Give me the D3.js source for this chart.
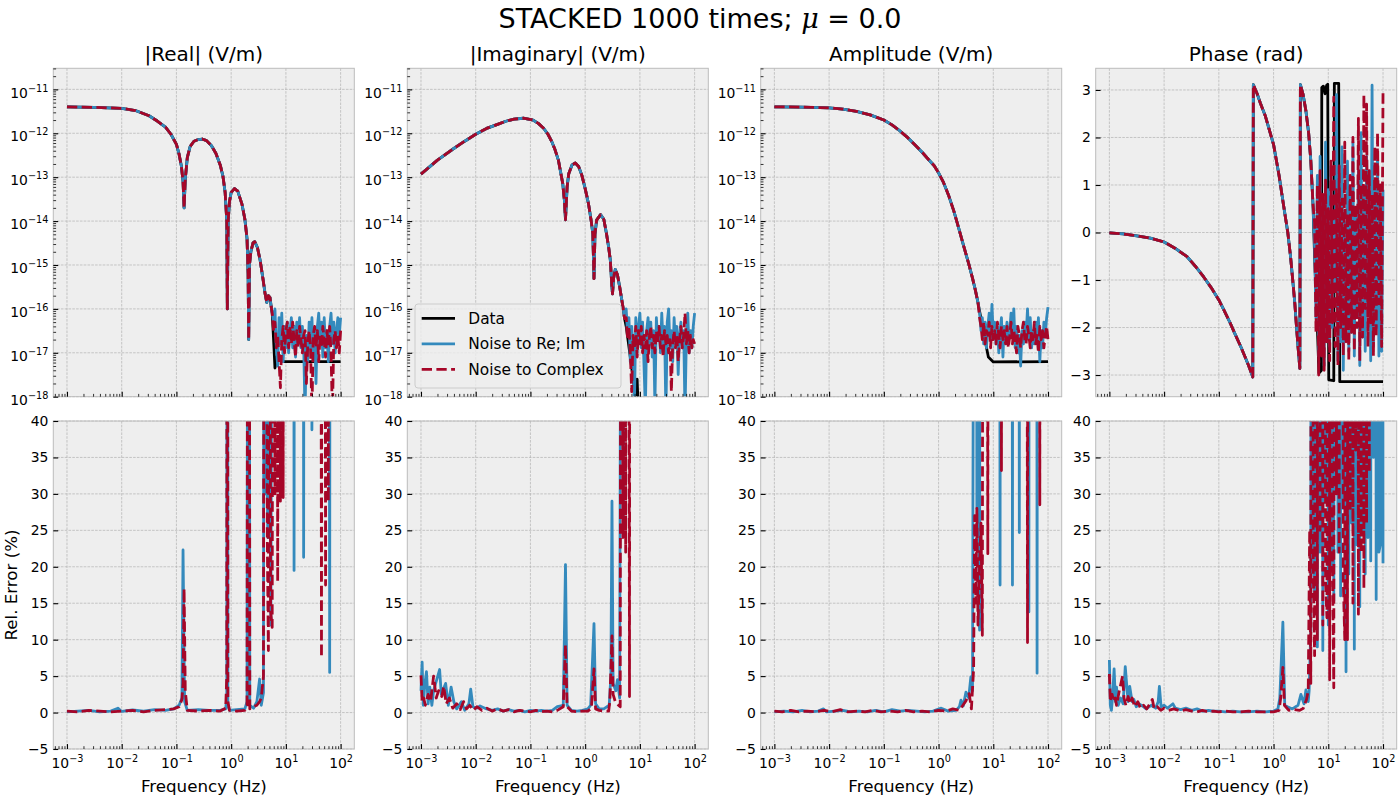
<!DOCTYPE html>
<meta charset="utf-8">
<style>
body { margin: 0; background: #fff; }
text { font-family: "DejaVu Sans", sans-serif; fill: #000; }
.bg { fill: #eeeeee; }
.frame { fill: none; stroke: #bcbcbc; stroke-width: 1; }
.grid line { stroke: #b2b2b2; stroke-width: 0.7; stroke-dasharray: 2.6,1.2; }
.axis text { font-family: "DejaVu Sans", sans-serif; font-size: 13.9px; fill: #000; }
.axis .tick line { stroke: #000; }
.line { fill: none; stroke-width: 2.8; stroke-linejoin: round; }
.title { font-size: 20px; }
.label { font-size: 16.7px; }
</style>
<svg width="1400" height="800"></svg>
<script src="https://d3js.org/d3.v7.min.js"></script>
<script>

// ---------- data ----------
// shared frequencies (Hz) of the noisy high-frequency part
const tailFreq = [5.62, 5.96, 6.31, 6.68, 7.08, 7.50, 7.94, 8.41, 8.91, 9.44,
  10.0, 10.6, 11.2, 11.9, 12.6, 13.3, 14.1, 15.0, 15.8, 16.8,
  17.8, 18.8, 20.0, 21.1, 22.4, 23.7, 25.1, 26.6, 28.2, 29.9,
  31.6, 33.5, 35.5, 37.6, 39.8, 42.2, 44.7, 47.3, 50.1, 53.1,
  56.2, 59.6, 63.1, 66.8, 70.8, 75.0, 79.4, 84.1, 89.1, 94.4, 100];

// |Real| (V/m): [Hz, value]
const realSmooth = [[0.001, 4.0e-12], [0.00316, 3.9e-12], [0.01, 3.7e-12], [0.0178, 3.3e-12], [0.0316, 2.5e-12],
  [0.0447, 1.9e-12], [0.0631, 1.38e-12], [0.0794, 9.5e-13], [0.1, 5.6e-13], [0.112, 3.3e-13], [0.123, 1.8e-13],
  [0.132, 8e-14], [0.138, 2e-14], [0.145, 9e-14], [0.158, 2.8e-13], [0.178, 5e-13], [0.209, 6.6e-13],
  [0.251, 7.2e-13], [0.295, 7.4e-13], [0.355, 6.8e-13], [0.437, 5.2e-13], [0.525, 3.5e-13], [0.631, 1.9e-13],
  [0.708, 1.05e-13], [0.776, 4.5e-14], [0.832, 1e-14], [0.851, 1e-16], [0.881, 1e-14], [0.933, 2.8e-14],
  [1.0, 4.5e-14], [1.15, 5.5e-14], [1.32, 4.8e-14], [1.58, 2.4e-14], [1.78, 1.1e-14], [1.95, 4e-15],
  [2.04, 6.3e-16], [2.09, 2e-17], [2.16, 1e-15], [2.29, 2e-15], [2.51, 3.2e-15], [2.69, 3.4e-15],
  [3.02, 2.5e-15], [3.39, 1.26e-15], [3.8, 5e-16], [4.17, 2.2e-16], [4.47, 1.4e-16], [4.79, 2e-16],
  [5.13, 1.8e-16], [5.4, 1.1e-16]];
const realDataTail = [[5.62, 8e-17], [5.96, 2e-17], [6.31, 4.5e-18], [6.76, 7e-18], [7.08, 9.5e-18],
  [7.5, 9e-18], [7.94, 7e-18], [8.41, 6.5e-18], [9.44, 6.3e-18], [100, 6.3e-18]];
const realReImTail = [8e-17, 5e-17, 1e-16, 1.3e-17, 5e-18, 6.3e-17, 1.6e-17, 8e-17, 6.3e-18, 4e-17,
  1.3e-17, 5e-17, 1e-17, 3.2e-17, 6.3e-17, 1.3e-17, 4e-17, 8e-18, 5e-17, 2e-17,
  6.3e-17, 1.3e-17, 4e-17, 1.6e-17, 4e-19, 2.5e-17, 6.3e-18, 5e-17, 1.3e-17, 6.3e-17,
  1e-17, 3.2e-17, 2e-18, 4e-17, 8e-17, 1.6e-17, 5e-17, 8e-18, 6.3e-17, 1.3e-17,
  3.2e-17, 6.3e-18, 4e-17, 8e-17, 1.6e-17, 5e-17, 1e-17, 3.2e-17, 6.3e-17, 2.5e-17, 6.3e-17];
const realCplxTail = [8e-17, 3.2e-17, 5e-17, 1.3e-17, 2.5e-17, 6.3e-18, 1.6e-18, 2e-17, 4e-17, 1e-17,
  3.2e-17, 5e-17, 1.3e-17, 4e-17, 1.6e-17, 5e-17, 2e-17, 8e-18, 3.2e-17, 1.3e-17,
  4e-17, 2e-17, 1e-17, 2.5e-17, 3.2e-17, 2e-18, 1.6e-17, 3.2e-17, 1.3e-17, 4e-19,
  2.5e-17, 4e-17, 1.3e-17, 3.2e-17, 6.3e-18, 2.5e-17, 1.3e-17, 4e-17, 2e-17, 8e-18,
  3.2e-17, 1.6e-17, 4e-17, 1e-17, 4e-19, 2e-17, 3.2e-17, 1.3e-17, 2.5e-17, 1e-17, 3.2e-17];

// |Imaginary| (V/m)
const imagSmooth = [[0.001, 1.17e-13], [0.002, 2.45e-13], [0.00398, 4.5e-13], [0.0063, 6.6e-13], [0.01, 9.5e-13],
  [0.0158, 1.29e-12], [0.0251, 1.6e-12], [0.0355, 1.88e-12], [0.0501, 2.1e-12], [0.0741, 2.2e-12],
  [0.112, 2.0e-12], [0.141, 1.66e-12], [0.174, 1.3e-12], [0.209, 9.5e-13], [0.245, 6.5e-13], [0.282, 4.2e-13],
  [0.324, 2.45e-13], [0.389, 7.2e-14], [0.417, 3e-14], [0.437, 1.07e-14], [0.468, 6e-14], [0.501, 1.2e-13],
  [0.575, 1.9e-13], [0.661, 2.1e-13], [0.759, 1.75e-13], [0.871, 1.1e-13], [1.0, 5.5e-14], [1.15, 2.5e-14],
  [1.29, 1e-14], [1.38, 5.2e-15], [1.45, 4.9e-16], [1.51, 5e-15], [1.62, 1.05e-14], [1.91, 1.4e-14],
  [2.19, 1.1e-14], [2.45, 5.2e-15], [2.69, 2.5e-15], [2.88, 1.3e-15], [3.09, 3e-16], [3.16, 2.2e-16],
  [3.31, 5e-16], [3.55, 7.9e-16], [3.89, 6e-16], [4.27, 3.2e-16], [4.9, 1.1e-16], [5.25, 6e-17]];
const imagDataTail = [[5.62, 4e-17], [6.46, 1.1e-17], [7.41, 3e-18], [7.59, 2.5e-18], [8.32, 8e-19],
  [8.91, 2.5e-18], [9.33, 5e-19], [100, 5e-19]];
const imagReImTail = [1e-16, 2.5e-17, 6.3e-17, 6.3e-18, 4e-17, 1.3e-17, 5e-19, 6.3e-17, 1e-17, 4e-17,
  8e-17, 1.3e-17, 5e-17, 5e-18, 5e-19, 3.2e-17, 6.3e-17, 1.6e-17, 5e-17, 8e-18,
  3.2e-17, 6.3e-19, 6.3e-17, 2e-17, 4e-17, 1e-17, 8e-17, 1.6e-17, 4e-17, 4e-19,
  5e-17, 1e-16, 1.3e-17, 3.2e-17, 6.3e-18, 6.3e-17, 1.6e-17, 4e-17, 3.2e-18, 2.5e-17,
  5e-17, 1.3e-17, 3.2e-17, 4e-19, 2.5e-17, 8e-17, 1e-17, 3.2e-17, 1.3e-17, 4e-17, 8e-17];
const imagCplxTail = [6.3e-17, 2e-17, 4e-17, 1e-17, 1.3e-18, 2.5e-17, 1.3e-17, 4e-17, 8e-18, 3.2e-17,
  1.6e-17, 4e-17, 1e-17, 2.5e-17, 1.3e-17, 3.2e-17, 6.3e-18, 2.5e-17, 4e-17, 1.3e-17,
  2.5e-17, 1e-17, 3.2e-17, 1.6e-17, 4e-17, 1.3e-17, 2.5e-17, 8e-18, 3.2e-17, 1.6e-17,
  2.5e-17, 1e-17, 2e-17, 1.3e-18, 1.6e-17, 3.2e-17, 1.3e-17, 2.5e-17, 6.3e-18, 2e-17,
  4e-17, 1.3e-17, 2.5e-17, 8e-17, 1.6e-17, 3.2e-17, 1e-17, 2.5e-17, 1.3e-17, 2e-17, 1.6e-17];

// Amplitude (V/m)
const ampSmooth = [[0.001, 4.0e-12], [0.00316, 3.95e-12], [0.01, 3.8e-12], [0.0178, 3.55e-12], [0.0316, 3.16e-12],
  [0.0562, 2.63e-12], [0.1, 2.0e-12], [0.141, 1.55e-12], [0.186, 1.2e-12], [0.263, 8.3e-13], [0.372, 5.4e-13],
  [0.501, 3.7e-13], [0.661, 2.5e-13], [0.832, 1.82e-13], [1.0, 1.26e-13], [1.23, 7.6e-14], [1.51, 4e-14],
  [1.91, 1.66e-14], [2.34, 6.8e-15], [2.88, 2.7e-15], [3.55, 1.07e-15], [4.17, 5e-16], [4.68, 2.75e-16],
  [5.25, 1.4e-16]];
const ampDataTail = [[5.96, 6e-17], [7.08, 1.9e-17], [8.13, 8e-18], [10, 6.2e-18], [100, 6.3e-18]];
const ampReImTail = [8e-17, 3.2e-17, 6.3e-17, 1.6e-17, 5e-17, 1.3e-17, 4e-17, 8e-17, 2e-17, 1.26e-16,
  2.5e-17, 5e-17, 1.6e-17, 4e-17, 1e-17, 3.2e-17, 6.3e-17, 8e-18, 4e-17, 2e-17,
  5e-17, 1.6e-17, 3.2e-17, 8e-17, 2.5e-17, 1e-16, 1.3e-17, 4e-17, 1e-17, 2.5e-17,
  5e-18, 3.2e-17, 1.6e-17, 5e-17, 2.5e-17, 1e-16, 2e-17, 6.3e-17, 1.3e-17, 3.2e-17,
  1.6e-17, 5e-17, 2e-17, 6.3e-17, 6.3e-18, 3.2e-17, 1.3e-17, 5e-17, 2.5e-17, 6.3e-17, 1.1e-16];
const ampCplxTail = [6.3e-17, 4e-17, 2e-17, 5e-17, 1.6e-17, 3.2e-17, 2.5e-17, 5e-17, 1.3e-17, 4e-17,
  2e-17, 3.2e-17, 1.6e-17, 5e-17, 2.5e-17, 1.3e-17, 4e-17, 2e-17, 3.2e-17, 1.6e-17,
  4e-17, 1.3e-17, 2.5e-17, 5e-17, 1.6e-17, 3.2e-17, 2e-17, 1e-17, 4e-17, 2.5e-17,
  1.3e-17, 3.2e-17, 5e-17, 2e-17, 1.6e-17, 4e-17, 2.5e-17, 1.3e-17, 3.2e-17, 2e-17,
  5e-17, 1.6e-17, 2.5e-17, 1e-17, 4e-17, 2e-17, 3.2e-17, 1.3e-17, 2.5e-17, 4e-17, 2e-17];

// Phase (rad)
const phaseSmooth = [[0.001, -0.01], [0.00178, -0.03], [0.00316, -0.07], [0.00562, -0.12], [0.01, -0.2],
  [0.0158, -0.33], [0.0263, -0.51], [0.0372, -0.71], [0.0525, -0.93], [0.0724, -1.16], [0.1, -1.42],
  [0.126, -1.65], [0.162, -1.91], [0.2, -2.15], [0.251, -2.4], [0.302, -2.62], [0.355, -2.82],
  [0.417, -3.04], [0.427, 3.11], [0.501, 2.92], [0.575, 2.72], [0.708, 2.45], [1.0, 1.85], [1.26, 1.2],
  [1.51, 0.6], [1.82, 0.0], [2.04, -0.5], [2.24, -1.0], [2.45, -1.5], [2.63, -2.0], [2.82, -2.45],
  [3.02, -2.86], [3.09, 3.11], [3.47, 2.9], [3.89, 2.57], [4.37, 2.1], [4.79, 1.52], [5.25, 0.6]];
const phaseDataTail = [[5.62, -0.5], [6.31, -2.0], [6.76, -2.96], [7.5, -2.9], [7.6, 3.05], [8.13, 3.08],
  [8.71, 2.92], [9.33, 3.1], [9.77, 3.12], [10.2, -3.1], [12.6, -3.12], [12.9, 3.14], [15.5, 3.14],
  [16.2, -3.14], [100, -3.14]];
const phaseReImTail = [-0.3, -1.8, 1.2, -2.6, 1.6, -2.2, 0.6, -2.8, 1.9, -1.5,
  0.9, -2.4, 1.4, -2.0, 0.4, -1.2, 2.9, -2.7, 1.0, -2.3,
  1.8, -2.9, 0.2, -1.9, 1.5, -2.5, 0.8, -2.1, 1.9, -2.6,
  0.5, -1.7, 1.3, -2.8, 2.1, -2.2, 0.9, -2.5, 1.6, -1.4,
  0.3, -2.7, 3.1, -2.4, 1.1, -2.0, 1.7, -2.6, 0.6, -2.5, 0.9];
const phaseCplxTail = [0.2, -2.1, 1.0, -3.0, 1.3, -2.6, 0.8, -2.9, 1.1, -2.3,
  0.5, -2.7, 1.5, -1.9, 2.85, -2.4, 0.9, -2.8, 1.4, -2.0,
  0.7, -2.6, 1.9, -2.3, 0.4, -2.7, 1.2, -2.1, 2.0, -2.5,
  0.6, -2.0, 2.4, -2.7, 1.0, -2.2, 2.9, -1.6, 2.7, -2.4,
  1.3, -1.9, 0.8, -2.6, 1.8, -2.2, 2.1, -1.5, 1.0, -2.4, 2.95];

// Rel. Error (%) -- values above 40 run off the top of the plot
const realErrReImHead = [[0.001, 0.1], [0.00158, 0.2], [0.00251, 0.3], [0.00398, 0.1], [0.00631, 0.2],
  [0.0085, 0.6], [0.01, 0.15], [0.0158, 0.35], [0.0251, 0.2], [0.0398, 0.4], [0.0631, 0.3], [0.0891, 0.5],
  [0.112, 1.0], [0.126, 2.0], [0.132, 22.3], [0.141, 1.5], [0.158, 0.3], [0.251, 0.4], [0.398, 0.3],
  [0.631, 0.3], [0.794, 0.5], [0.832, 2], [0.851, 200], [0.871, 1.0], [0.933, 0.3], [1.26, 0.4],
  [1.78, 0.5], [1.95, 1.5], [2.09, 200], [2.19, 1.0], [2.57, 0.6], [2.95, 1.5], [3.31, 4.6], [3.55, 1.0],
  [3.89, 2.7], [4.07, 150], [4.27, 30], [4.47, 35], [4.68, 24], [4.9, 150], [5.13, 35], [5.31, 12]];
const realErrReImTail = [80, 150, 45, 300, 120, 200, 90, 250, 150, 400,
  180, 300, 120, 250, 200, 350, 19.5, 300, 150, 400,
  220, 180, 300, 21.3, 250, 400, 150, 300, 200, 38.8,
  250, 350, 180, 300, 220, 400, 150, 250, 300, 180,
  350, 200, 5.5, 300, 250, 400, 150, 300, 200, 350, 250];
const realErrCplxHead = [[0.001, 0.2], [0.00158, 0.1], [0.00251, 0.3], [0.00398, 0.2], [0.00631, 0.1],
  [0.01, 0.2], [0.0158, 0.3], [0.0251, 0.1], [0.0398, 0.3], [0.0631, 0.4], [0.0891, 0.5], [0.112, 0.8],
  [0.126, 1.8], [0.132, 4], [0.138, 17], [0.145, 3], [0.158, 0.3], [0.251, 0.2], [0.398, 0.3],
  [0.631, 0.2], [0.794, 0.6], [0.832, 5], [0.851, 200], [0.871, 1.5], [0.933, 0.3], [1.26, 0.2],
  [1.78, 0.3], [1.95, 1.0], [2.09, 200], [2.19, 0.5], [2.57, 0.8], [2.95, 1.0], [3.31, 1.5], [3.55, 2.0],
  [3.89, 5], [4.07, 150], [4.27, 150], [4.57, 24], [4.79, 8.5], [5.01, 150], [5.25, 14]];
const realErrCplxTail = [11.7, 150, 30, 200, 18, 150, 29, 200, 29.5, 200,
  300, 150, 250, 400, 200, 300, 180, 250, 350, 200,
  300, 150, 400, 250, 200, 300, 180, 350, 250, 200,
  300, 150, 400, 250, 300, 180, 7.6, 250, 200, 17.5,
  300, 29, 250, 400, 200, 300, 150, 350, 250, 200, 300];

const imagErrReIm = [[0.001, 3.0], [0.00105, 6.9], [0.0011, 1.0], [0.00118, 4.0], [0.00126, 5.6],
  [0.00135, 1.2], [0.00145, 3.5], [0.00158, 1.0], [0.0017, 3.0], [0.00219, 5.9], [0.00235, 2.5],
  [0.00282, 4.0], [0.00316, 1.0], [0.00355, 3.5], [0.00398, 1.5], [0.0045, 0.5], [0.0055, 1.5],
  [0.0063, 0.3], [0.0075, 1.2], [0.0081, 3.2], [0.0089, 0.8], [0.0105, 0.6], [0.012, 0.9], [0.0158, 0.5],
  [0.02, 0.3], [0.0251, 0.5], [0.0316, 0.2], [0.0398, 0.4], [0.05, 0.2], [0.063, 0.3], [0.079, 0.1],
  [0.1, 0.3], [0.126, 0.2], [0.158, 0.3], [0.2, 0.2], [0.251, 0.3], [0.309, 0.8], [0.398, 1.0],
  [0.437, 20.3], [0.468, 1.0], [0.56, 0.3], [0.708, 0.2], [0.89, 0.3], [1.12, 0.5], [1.26, 1.0],
  [1.45, 12.2], [1.55, 1.2], [1.8, 0.5], [2.19, 0.5], [2.75, 1.0], [2.95, 5], [3.09, 29], [3.24, 4],
  [3.63, 3], [3.89, 4.5], [4.27, 2], [4.57, 100], [4.79, 300], [5.01, 26], [5.25, 200], [5.62, 300], [100, 300]];
const imagErrCplx = [[0.001, 5.1], [0.00105, 1.5], [0.00112, 2.0], [0.0012, 1.0], [0.00135, 2.5],
  [0.0015, 1.5], [0.0017, 5.0], [0.0019, 2.0], [0.0021, 3.0], [0.0024, 2.2], [0.0026, 3.6], [0.0029, 1.2],
  [0.0033, 2.0], [0.0038, 0.6], [0.0045, 1.2], [0.0052, 0.4], [0.006, 1.5], [0.0068, 0.5], [0.0078, 1.0],
  [0.009, 0.3], [0.0105, 0.8], [0.013, 0.3], [0.016, 0.6], [0.02, 0.2], [0.025, 0.5], [0.032, 0.2],
  [0.04, 0.4], [0.05, 0.1], [0.063, 0.3], [0.08, 0.2], [0.1, 0.1], [0.126, 0.3], [0.158, 0.1], [0.2, 0.2],
  [0.251, 0.1], [0.309, 0.3], [0.398, 0.8], [0.437, 9.3], [0.468, 0.8], [0.56, 0.2], [0.708, 0.1],
  [0.89, 0.2], [1.12, 0.2], [1.3, 0.6], [1.45, 6.0], [1.55, 0.5], [1.8, 0.3], [2.19, 0.2], [2.69, 0.2],
  [2.82, 1.5], [3.09, 10.5], [3.24, 2.5], [3.55, 1.5], [4.07, 1.0], [4.37, 0.8], [4.57, 150], [4.9, 24],
  [5.13, 200], [5.5, 22], [5.75, 250], [6.46, 2.2], [6.76, 300], [100, 300]];

const ampErrReImHead = [[0.001, 0.1], [0.0015, 0.2], [0.0022, 0.1], [0.0032, 0.3], [0.0045, 0.1],
  [0.0063, 0.2], [0.0079, 0.5], [0.0089, 0.1], [0.0126, 0.2], [0.018, 0.3], [0.025, 0.1], [0.035, 0.2],
  [0.05, 0.1], [0.07, 0.3], [0.1, 0.1], [0.141, 0.4], [0.2, 0.2], [0.28, 0.3], [0.4, 0.2], [0.56, 0.1],
  [0.79, 0.2], [1.12, 0.6], [1.5, 0.2], [2.09, 0.3], [2.4, 0.8], [2.57, 1.7], [2.82, 0.9], [3.16, 2.8],
  [3.55, 2.0], [3.89, 4.9], [4.17, 3.0], [4.47, 100], [4.68, 300], [5.01, 28], [5.25, 300], [5.5, 13]];
const ampErrReImTail = [11.3, 250, 150, 300, 200, 400, 250, 300, 150, 350,
  200, 300, 250, 400, 200, 17.5, 300, 250, 350, 200,
  400, 300, 150, 250, 17.5, 300, 200, 350, 250, 24.7,
  300, 150, 400, 250, 300, 200, 13.8, 350, 250, 300,
  200, 400, 5.4, 300, 250, 350, 200, 300, 250, 400, 300];
const ampErrCplxHead = [[0.001, 0.2], [0.0014, 0.1], [0.002, 0.3], [0.0028, 0.1], [0.004, 0.2],
  [0.0056, 0.1], [0.008, 0.3], [0.011, 0.1], [0.016, 0.4], [0.022, 0.1], [0.032, 0.2], [0.045, 0.1],
  [0.063, 0.3], [0.089, 0.1], [0.126, 0.2], [0.178, 0.1], [0.25, 0.3], [0.35, 0.1], [0.5, 0.2], [0.71, 0.1],
  [1.0, 0.3], [1.41, 0.2], [1.82, 0.5], [2.4, 0.3], [3.16, 1.6], [3.63, 2.6], [3.98, 0.5], [4.37, 6],
  [4.57, 27], [4.79, 15], [5.01, 28], [5.25, 12]];
const ampErrCplxTail = [20, 26, 10.6, 200, 300, 150, 21.8, 250, 300, 200,
  400, 250, 300, 150, 350, 250, 33.2, 300, 200, 400,
  250, 300, 150, 350, 200, 300, 250, 400, 200, 300,
  150, 350, 250, 300, 200, 9.6, 300, 250, 400, 200,
  300, 150, 350, 250, 28.5, 300, 200, 400, 250, 300, 350];

const phaseErrReImHead = [[0.001, 7.2], [0.00104, 1.0], [0.00109, 0.3], [0.00114, 2.0], [0.00122, 6.0],
  [0.00129, 1.5], [0.00135, 3.5], [0.00145, 1.0], [0.0016, 2.0], [0.00178, 1.2], [0.00195, 6.3],
  [0.00209, 3.5], [0.0022, 1.5], [0.00235, 3.6], [0.0026, 1.5], [0.0028, 1.8], [0.0031, 0.8],
  [0.0035, 1.2], [0.004, 0.9], [0.0047, 0.5], [0.0058, 1.0], [0.007, 0.6], [0.0078, 1.5], [0.0082, 3.6],
  [0.0088, 0.8], [0.01, 1.0], [0.0115, 0.6], [0.0129, 0.9], [0.0145, 1.2], [0.016, 0.6], [0.02, 0.4],
  [0.025, 0.6], [0.032, 0.3], [0.04, 0.5], [0.05, 0.2], [0.065, 0.3], [0.08, 0.2], [0.1, 0.2], [0.13, 0.1],
  [0.18, 0.2], [0.25, 0.1], [0.35, 0.1], [0.5, 0.2], [0.7, 0.1], [1.0, 0.2], [1.2, 0.5], [1.3, 2.0],
  [1.48, 12.4], [1.6, 1.0], [1.8, 0.8], [2.2, 0.5], [2.8, 1.0], [3.16, 2.5], [3.6, 1.2], [3.9, 3.1],
  [4.3, 1.5], [4.47, 3.0], [4.79, 11.5], [5.0, 300], [5.3, 24]];
const phaseErrReImTail = [16, 200, 9, 300, 22, 250, 8.5, 150, 30, 300,
  12, 250, 20, 400, 15.3, 200, 300, 22, 250, 16,
  300, 28, 150, 5.6, 300, 19, 250, 26, 200, 8.7,
  350, 23, 200, 14.5, 300, 25, 250, 19, 400, 24,
  200, 20.8, 300, 35, 250, 15.5, 300, 22, 23, 300, 20.5];
const phaseErrCplxHead = [[0.001, 5.3], [0.00104, 1.5], [0.00112, 2.5], [0.0012, 1.5], [0.00128, 2.0],
  [0.00135, 1.0], [0.0015, 2.8], [0.00174, 5.0], [0.00185, 2.0], [0.002, 1.0], [0.0022, 2.2],
  [0.0024, 1.2], [0.0026, 2.0], [0.0029, 0.8], [0.0033, 1.5], [0.0037, 0.6], [0.0042, 1.0], [0.0048, 0.5],
  [0.0055, 1.2], [0.0061, 1.8], [0.0066, 0.5], [0.0075, 0.8], [0.0087, 0.3], [0.01, 0.6], [0.012, 0.3],
  [0.015, 0.5], [0.02, 0.2], [0.025, 0.4], [0.032, 0.2], [0.04, 0.1], [0.05, 0.3], [0.063, 0.1],
  [0.08, 0.2], [0.1, 0.1], [0.13, 0.2], [0.18, 0.1], [0.25, 0.1], [0.35, 0.2], [0.5, 0.1], [0.7, 0.1],
  [1.0, 0.1], [1.26, 0.3], [1.35, 2.0], [1.48, 6.2], [1.58, 1.0], [1.9, 0.3], [2.4, 0.4], [3.0, 0.3],
  [3.5, 0.6], [4.0, 1.8], [4.3, 3.0], [4.57, 25], [4.79, 4], [5.0, 250], [5.3, 20]];
const phaseErrCplxTail = [7.8, 150, 10, 300, 25, 200, 12, 300, 18, 13,
  250, 4.5, 300, 20, 3.4, 250, 30, 300, 22, 200,
  350, 18, 10, 300, 10, 250, 28, 300, 15, 200,
  36, 300, 13.5, 250, 22, 300, 17, 200, 26, 350,
  33, 250, 300, 200, 400, 250, 300, 200, 350, 250, 300];

const titles = ['|Real| (V/m)', '|Imaginary| (V/m)', 'Amplitude (V/m)', 'Phase (rad)'];
const legendLabels = ['Data', 'Noise to Re; Im', 'Noise to Complex'];

// ---------- layout ----------
const svg = d3.select('svg');
const W = 301;
const cols = [53.3, 407.3, 760.7, 1095.7];
const rows = {top: {y: 68.3, h: 328.4}, bottom: {y: 421, h: 328}};

const styles = {
  data: {color: '#000000', dash: null},
  reim: {color: '#348ABD', dash: null},
  cplx: {color: '#A60628', dash: '10.3,4.4'}
};
const tail = vals => d3.zip(tailFreq, vals);

const x = d3.scaleLog().domain([Math.pow(10, -3.25), Math.pow(10, 2.25)]).range([0, W]);
const yAmp = d3.scaleLog().domain([1e-18, Math.pow(10, -10.52)]).range([rows.top.h, 0]);
const yPhase = d3.scaleLinear().domain([-3.456, 3.456]).range([rows.top.h, 0]);
const yErr = d3.scaleLinear().domain([-5, 40]).range([rows.bottom.h, 0]);

function logTicks(scale) {
  const [lo, hi] = scale.domain();
  const major = [], minor = [];
  for (let e = Math.floor(Math.log10(lo)); e <= Math.ceil(Math.log10(hi)); e++) {
    for (let k = 1; k < 10; k++) {
      const v = k * Math.pow(10, e);
      if (v < lo * 0.999 || v > hi * 1.001) continue;
      (k === 1 ? major : minor).push(v);
    }
  }
  return {major, minor};
}

function supLabels(axisG, dy) {
  axisG.selectAll('.tick text').each(function(d) {
    const e = Math.round(Math.log10(d));
    const t = d3.select(this).text(null).attr('dy', dy);
    t.append('tspan').text('10');
    t.append('tspan').attr('dy', -6).attr('font-size', '9.7px').text(e < 0 ? '\u2212' + (-e) : String(e));
  });
}

function styleAxis(axisG, width) {
  axisG.select('.domain').remove();
  axisG.attr('font-family', null).attr('font-size', null);
  axisG.selectAll('.tick line').attr('stroke-width', width);
}

function drawPanel(col, rowName, cfg) {
  const row = rows[rowName];
  const h = row.h;
  const y = cfg.y;
  const g = svg.append('g').attr('transform', `translate(${cols[col]},${row.y})`);
  const clipId = `clip-${rowName}-${col}`;
  g.append('clipPath').attr('id', clipId).append('rect').attr('width', W).attr('height', h);
  g.append('rect').attr('class', 'bg').attr('width', W).attr('height', h);

  const xt = logTicks(x);
  const yMajor = cfg.logY ? logTicks(y).major : cfg.yTicks;

  const grid = g.append('g').attr('class', 'grid');
  grid.selectAll('line.gx').data(xt.major).join('line').attr('class', 'gx')
    .attr('x1', d => x(d)).attr('x2', d => x(d)).attr('y1', 0).attr('y2', h);
  grid.selectAll('line.gy').data(yMajor).join('line').attr('class', 'gy')
    .attr('x1', 0).attr('x2', W).attr('y1', d => y(d)).attr('y2', d => y(d));

  const line = d3.line().x(d => x(d[0])).y(d => y(d[1]));
  g.append('g').attr('clip-path', `url(#${clipId})`)
    .selectAll('path').data(cfg.series).join('path')
    .attr('class', 'line')
    .attr('d', d => line(d.values))
    .attr('stroke', d => d.color)
    .attr('stroke-dasharray', d => d.dash);

  g.append('rect').attr('class', 'frame').attr('width', W).attr('height', h);

  // x axis (ticks point inward)
  const xa = g.append('g').attr('class', 'axis').attr('transform', `translate(0,${h})`)
    .call(d3.axisBottom(x).tickValues(xt.major).tickSize(-4.9).tickPadding(4.9)
      .tickFormat(rowName === 'bottom' ? (d => d) : (() => '')));
  styleAxis(xa, 1.1);
  if (rowName === 'bottom') supLabels(xa, '1.03em');
  const xm = g.append('g').attr('class', 'axis').attr('transform', `translate(0,${h})`)
    .call(d3.axisBottom(x).tickValues(xt.minor).tickSize(-2.8).tickFormat(() => ''));
  styleAxis(xm, 0.8);

  // y axis
  const ya = g.append('g').attr('class', 'axis')
    .call(d3.axisLeft(y).tickValues(yMajor).tickSize(-4.9).tickPadding(4.9)
      .tickFormat(cfg.logY ? (d => d) : d3.format('d')));
  styleAxis(ya, 1.1);
  if (cfg.logY) {
    supLabels(ya, '0.55em');
    const ym = g.append('g').attr('class', 'axis')
      .call(d3.axisLeft(y).tickValues(logTicks(y).minor).tickSize(-2.8).tickFormat(() => ''));
    styleAxis(ym, 0.8);
  }

  if (cfg.title) {
    g.append('text').attr('class', 'title').attr('x', W / 2).attr('y', -7.8)
      .attr('text-anchor', 'middle').text(cfg.title);
  }
  if (rowName === 'bottom') {
    g.append('text').attr('class', 'label').attr('x', W / 2).attr('y', 370.5)
      .attr('text-anchor', 'middle').text('Frequency (Hz)');
  }
  return g;
}

// ---------- top row ----------
const topSets = [
  [realSmooth, realDataTail, realReImTail, realCplxTail],
  [imagSmooth, imagDataTail, imagReImTail, imagCplxTail],
  [ampSmooth, ampDataTail, ampReImTail, ampCplxTail]
];
topSets.forEach(([smooth, dataTail, reimTail, cplxTail], i) => {
  drawPanel(i, 'top', {
    title: titles[i], y: yAmp, logY: true,
    series: [
      {...styles.data, values: smooth.concat(dataTail)},
      {...styles.reim, values: smooth.concat(tail(reimTail))},
      {...styles.cplx, values: smooth.concat(tail(cplxTail))}
    ]
  });
});
drawPanel(3, 'top', {
  title: titles[3], y: yPhase, logY: false, yTicks: [-3, -2, -1, 0, 1, 2, 3],
  series: [
    {...styles.data, values: phaseSmooth.concat(phaseDataTail)},
    {...styles.reim, values: phaseSmooth.concat(tail(phaseReImTail))},
    {...styles.cplx, values: phaseSmooth.concat(tail(phaseCplxTail))}
  ]
});

// ---------- bottom row ----------
const errTicks = [-5, 0, 5, 10, 15, 20, 25, 30, 35, 40];
const bottomSeries = [
  [realErrReImHead.concat(tail(realErrReImTail)), realErrCplxHead.concat(tail(realErrCplxTail))],
  [imagErrReIm, imagErrCplx],
  [ampErrReImHead.concat(tail(ampErrReImTail)), ampErrCplxHead.concat(tail(ampErrCplxTail))],
  [phaseErrReImHead.concat(tail(phaseErrReImTail)), phaseErrCplxHead.concat(tail(phaseErrCplxTail))]
];
bottomSeries.forEach(([reim, cplx], i) => {
  drawPanel(i, 'bottom', {
    y: yErr, logY: false, yTicks: errTicks,
    series: [{...styles.reim, values: reim}, {...styles.cplx, values: cplx}]
  });
});

// ---------- legend (in |Imaginary| panel) ----------
const lg = svg.append('g').attr('transform', `translate(${cols[1] + 7.7},${rows.top.y + 235.7})`);
lg.append('rect').attr('width', 206).attr('height', 84).attr('rx', 3)
  .attr('fill', '#eeeeee').attr('fill-opacity', 0.8).attr('stroke', '#cccccc').attr('stroke-width', 1);
const legendStyles = [styles.data, styles.reim, styles.cplx];
legendLabels.forEach((lab, i) => {
  const yy = 14.3 + i * 25.5;
  lg.append('line').attr('x1', 6.7).attr('x2', 40).attr('y1', yy).attr('y2', yy)
    .attr('stroke', legendStyles[i].color).attr('stroke-width', 2.8)
    .attr('stroke-dasharray', legendStyles[i].dash);
  lg.append('text').attr('x', 53.3).attr('y', yy).attr('dy', '0.35em')
    .style('font-size', '15.4px').text(lab);
});

// ---------- figure texts ----------
const sup = svg.append('text').attr('x', 700).attr('y', 28).attr('text-anchor', 'middle')
  .style('font-size', '27px');
sup.append('tspan').text('STACKED 1000 times; ');
sup.append('tspan').style('font-family', '"DejaVu Serif", serif').style('font-style', 'italic').text('\u03bc');
sup.append('tspan').text(' = 0.0');

svg.append('text').attr('class', 'label')
  .attr('transform', 'translate(16.5,585) rotate(-90)')
  .attr('text-anchor', 'middle').text('Rel. Error (%)');

</script>
